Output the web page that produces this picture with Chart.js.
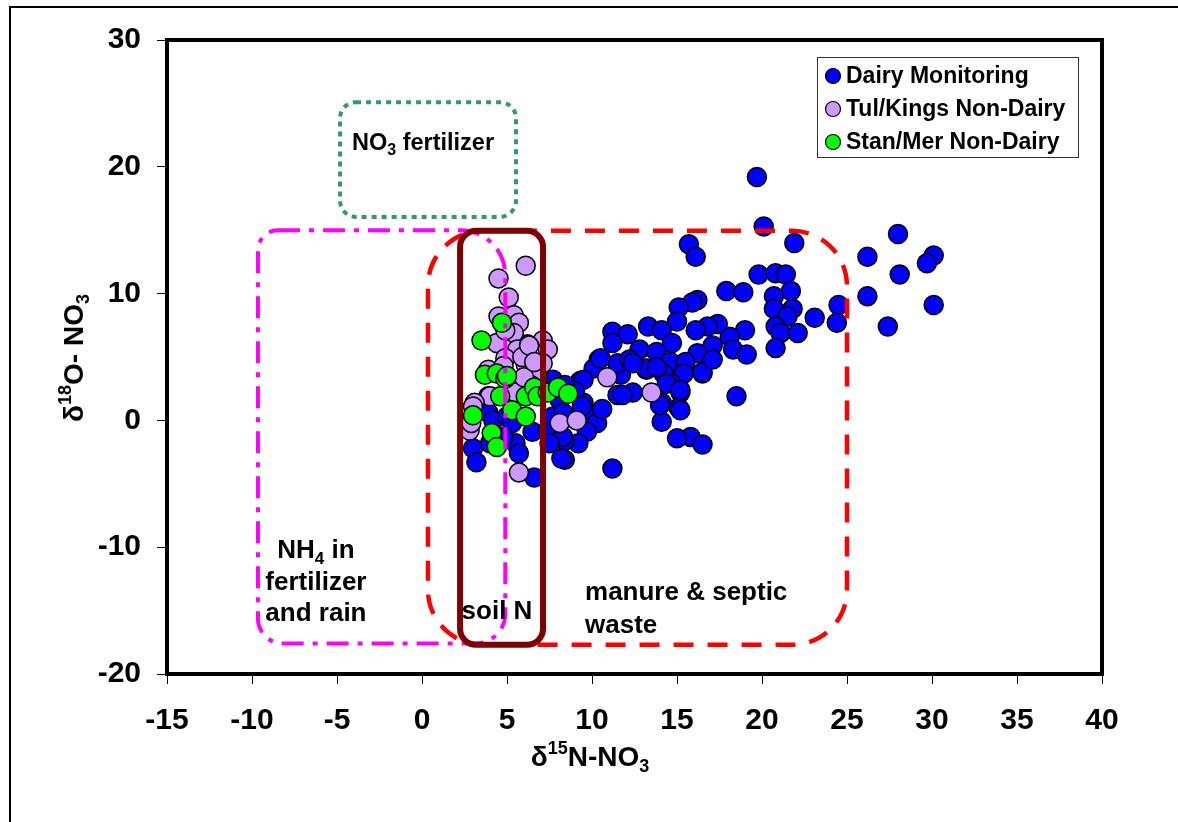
<!DOCTYPE html>
<html>
<head>
<meta charset="utf-8">
<script src="https://cdn.jsdelivr.net/npm/chart.js@4"></script>
<style>
  body { margin: 0; background: #fff; }
  #wrap { position: relative; width: 1178px; height: 822px; }
</style>
</head>
<body>
<div id="wrap"><canvas id="grafico"></canvas></div>
<script>
const seriesNames = ['Dairy Monitoring', 'Tul/Kings Non-Dairy', 'Stan/Mer Non-Dairy'];
const seriesColors = ['#0000ff', '#cc99ff', '#00ff00'];

// [d15N, d18O]
const dairyPoints = [
  [19.7, 19.2], [20.1, 15.3], [21.9, 14.0], [26.2, 12.9], [28.0, 14.7], [30.1, 13.0], [29.7, 12.4],
  [28.1, 11.5], [26.2, 9.8], [30.1, 9.1], [27.4, 7.4], [24.5, 9.1], [24.4, 7.7], [23.1, 8.1],
  [15.7, 13.9], [16.1, 12.9], [19.8, 11.5], [20.8, 11.6], [21.4, 11.5], [21.7, 10.2], [20.7, 9.8],
  [20.7, 8.8], [21.8, 8.8], [21.5, 8.2], [20.8, 7.4], [21.1, 6.9], [22.1, 6.9], [20.8, 5.7],
  [17.9, 10.2], [18.9, 10.1], [16.2, 9.5], [19.0, 7.1], [18.1, 6.6], [18.3, 5.6], [19.1, 5.2],
  [17.4, 7.6], [16.8, 7.4], [16.1, 7.1], [17.1, 5.9], [16.2, 5.3], [16.5, 3.7], [18.5, 1.9],
  [15.8, -1.3], [16.5, -1.9], [15.0, -1.4], [15.9, 9.3], [15.1, 8.9], [15.0, 7.8], [13.3, 7.4],
  [14.1, 7.1], [14.7, 6.1], [11.2, 7.0], [12.1, 6.8], [11.2, 6.1], [12.8, 5.6], [13.8, 5.4],
  [14.6, 4.6], [15.5, 4.6], [15.4, 3.7], [14.6, 3.0], [15.2, 2.2], [14.1, 1.4], [15.1, 1.0],
  [14.1, -0.1], [12.4, 2.2], [11.5, 2.0], [11.7, 3.6], [11.5, 4.5], [10.4, 4.8], [10.1, 4.1],
  [9.3, 3.1], [9.5, 1.4], [9.9, 0.4], [10.3, -0.2], [9.7, -0.9], [9.2, -1.8], [8.4, -1.6],
  [8.4, -3.1], [11.2, -3.8], [13.2, 4.0], [12.2, 4.8], [14.2, 3.7], [16.5, 3.8], [17.1, 4.8],
  [13.2, 4.1], [12.4, 4.5], [13.8, 4.2], [10.5, 4.9], [14.0, 1.2], [15.2, 0.8],
  [14.4, 2.9], [15.2, 2.4], [11.8, 2.0], [9.5, 3.2], [9.0, 2.3], [10.6, 0.9],
  [6.2, 6.0], [7.7, 3.2], [3.9, 1.9], [3.9, 0.6], [4.2, 0.0], [5.0, 0.3], [5.3, -0.2], [6.5, -0.9],
  [7.4, -0.8], [7.7, 0.3], [8.1, 1.6], [8.3, 0.6], [3.0, -2.2], [3.2, -3.3], [5.5, -1.8], [5.7, -2.6],
  [6.6, -4.5], [8.3, -1.3], [8.2, -3.0], [7.5, -1.8], [4.0, -1.8], [4.8, -1.3], [9.4, 1.1], [8.4, 2.8]
];

const tulKingsPoints = [
  [6.1, 12.2], [4.5, 11.2], [5.1, 9.7], [4.5, 8.2], [5.4, 8.3], [5.7, 7.7], [5.4, 6.9], [4.4, 6.1],
  [5.6, 5.6], [6.1, 4.4], [7.1, 6.3], [7.4, 5.6], [7.1, 4.5], [6.8, 3.3], [4.0, 1.9], [3.1, 1.4],
  [2.8, -0.8], [5.7, -4.1], [8.1, -0.2], [9.1, 0.0], [5.5, 2.2], [10.9, 3.4], [13.5, 2.2], [4.9, 7.1],
  [6.4, 2.8], [3.9, 4.0], [4.9, 4.9], [6.0, 3.4], [3.0, 1.1], [2.9, -0.2], [5.9, 5.0], [6.3, 5.9],
  [4.8, 4.3], [6.6, 4.6]
];

const stanMerPoints = [
  [4.7, 7.7], [3.5, 6.3], [3.7, 3.6], [4.4, 3.7], [4.9, 3.3], [4.6, 1.9], [5.3, 0.8], [6.1, 0.3],
  [6.1, 1.9], [6.6, 2.6], [6.8, 1.9], [7.4, 2.2], [8.0, 2.6], [8.6, 2.1], [3.0, 0.4], [4.1, -1.0],
  [4.4, -2.1], [5.0, 3.5]
];

const xTicks = [-15, -10, -5, 0, 5, 10, 15, 20, 25, 30, 35, 40];
const yTicks = [-20, -10, 0, 10, 20, 30];

// source zones, in axis units
const zonas = [
  { x0: -9.65, x1: 4.9, y0: -17.6, y1: 15.0, cor: '#ff00ff', lw: 4, dash: [22, 9, 5, 9], r: [20, 45, 30, 25] },
  { x0: 0.35, x1: 25.0, y0: -17.7, y1: 14.95, cor: '#ff0000', lw: 4.5, dash: [20, 14], r: [55, 55, 55, 55] },
  { x0: 2.24, x1: 7.12, y0: -17.7, y1: 14.95, cor: '#800000', lw: 6, dash: [], r: [16, 16, 16, 16] },
  { x0: -4.82, x1: 5.53, y0: 16.05, y1: 25.1, cor: '#339966', lw: 4, dash: [5, 5], r: [16, 16, 16, 16] }
];

const rotulos = [
  { x: -4.12, y: 22.0, size: 23.5, align: 'left', parts: [['NO'], ['3', 'sub'], [' fertilizer']] },
  { x: -6.24, y: -10.1, size: 26, align: 'center', parts: [['NH'], ['4', 'sub'], [' in']] },
  { x: -6.24, y: -12.6, size: 26, align: 'center', parts: [['fertilizer']] },
  { x: -6.24, y: -15.1, size: 26, align: 'center', parts: [['and rain']] },
  { x: 4.41, y: -14.95, size: 26, align: 'center', parts: [['soil N']] },
  { x: 9.59, y: -13.44, size: 26, align: 'left', parts: [['manure & septic']] },
  { x: 9.59, y: -16.06, size: 26, align: 'left', parts: [['waste']] }
];

const FONTE = '"Liberation Sans", Arial, sans-serif';

function toXY(list) {
  return list.map(p => ({ x: p[0], y: p[1] }));
}

function caminhoArredondado(ctx, x, y, w, h, r) {
  const [tl, tr, br, bl] = r;
  ctx.beginPath();
  ctx.moveTo(x + tl, y);
  ctx.lineTo(x + w - tr, y);
  ctx.arcTo(x + w, y, x + w, y + tr, tr);
  ctx.lineTo(x + w, y + h - br);
  ctx.arcTo(x + w, y + h, x + w - br, y + h, br);
  ctx.lineTo(x + bl, y + h);
  ctx.arcTo(x, y + h, x, y + h - bl, bl);
  ctx.lineTo(x, y + tl);
  ctx.arcTo(x, y, x + tl, y, tl);
  ctx.closePath();
}

// texto com sub/sobrescrito
function textoRico(ctx, parts, x, y, align, size) {
  const small = Math.round(size * 0.66);
  const fonts = parts.map(p => 'bold ' + (p[1] ? small : size) + 'px ' + FONTE);
  let total = 0;
  const widths = parts.map((p, i) => {
    ctx.font = fonts[i];
    const w = ctx.measureText(p[0]).width;
    total += w;
    return w;
  });
  let cx = align === 'center' ? x - total / 2 : x;
  ctx.textAlign = 'left';
  ctx.textBaseline = 'alphabetic';
  const base = y + size * 0.36;
  parts.forEach((p, i) => {
    ctx.font = fonts[i];
    let dy = 0;
    if (p[1] === 'sub') dy = size * 0.22;
    if (p[1] === 'sup') dy = -size * 0.42;
    ctx.fillText(p[0], cx, base + dy);
    cx += widths[i];
  });
}

const desenhoPlugin = {
  id: 'desenho',
  afterDatasetsDraw(chart) {
    const ctx = chart.ctx;
    const sx = chart.scales.x, sy = chart.scales.y;
    ctx.save();
    zonas.forEach(z => {
      const x0 = sx.getPixelForValue(z.x0), x1 = sx.getPixelForValue(z.x1);
      const y0 = sy.getPixelForValue(z.y1), y1 = sy.getPixelForValue(z.y0);
      ctx.strokeStyle = z.cor;
      ctx.lineWidth = z.lw;
      ctx.setLineDash(z.dash);
      caminhoArredondado(ctx, x0, y0, x1 - x0, y1 - y0, z.r);
      ctx.stroke();
    });
    ctx.setLineDash([]);
    ctx.fillStyle = '#000';
    rotulos.forEach(t => {
      textoRico(ctx, t.parts, sx.getPixelForValue(t.x), sy.getPixelForValue(t.y), t.align, t.size);
    });
    ctx.restore();
  },
  afterDraw(chart) {
    const ctx = chart.ctx;
    const a = chart.chartArea;
    ctx.save();
    // moldura externa
    ctx.strokeStyle = '#000';
    ctx.lineWidth = 2;
    ctx.beginPath();
    ctx.moveTo(10, 830);
    ctx.lineTo(10, 7);
    ctx.lineTo(1178, 7);
    ctx.stroke();
    // area do grafico
    ctx.lineWidth = 4;
    ctx.strokeRect(a.left, a.top, a.right - a.left, a.bottom - a.top);

    // legenda
    ctx.lineWidth = 1;
    ctx.strokeStyle = '#333';
    ctx.strokeRect(817.5, 57.5, 261, 100);
    seriesNames.forEach((nome, i) => {
      const cy = 76 + i * 33;
      ctx.beginPath();
      ctx.arc(833, cy, 7.5, 0, Math.PI * 2);
      ctx.fillStyle = seriesColors[i];
      ctx.fill();
      ctx.strokeStyle = '#000';
      ctx.lineWidth = 1.2;
      ctx.stroke();
      ctx.fillStyle = '#000';
      ctx.font = 'bold 23px ' + FONTE;
      ctx.textAlign = 'left';
      ctx.textBaseline = 'middle';
      ctx.fillText(nome, 846, cy + 1);
    });

    // titulos dos eixos
    ctx.fillStyle = '#000';
    textoRico(ctx, [['δ'], ['15', 'sup'], ['N-NO'], ['3', 'sub']], 590, 756, 'center', 28);
    ctx.translate(73, 358);
    ctx.rotate(-Math.PI / 2);
    textoRico(ctx, [['δ'], ['18', 'sup'], ['O- NO'], ['3', 'sub']], 0, 0, 'center', 28);
    ctx.restore();
  }
};

function renderGrafico() {
  const ctx = document.getElementById('grafico');
  const pontos = [dairyPoints, tulKingsPoints, stanMerPoints];

  new Chart(ctx, {
    type: 'scatter',
    data: {
      datasets: pontos.map((lista, i) => ({
        label: seriesNames[i],
        data: toXY(lista),
        backgroundColor: seriesColors[i],
        borderColor: '#000',
        borderWidth: 1.5,
        pointRadius: 9.5,
        pointHoverRadius: 9.5,
        order: 3 - i
      }))
    },
    options: {
      responsive: true,
      maintainAspectRatio: false,
      animation: false,
      layout: { padding: { left: 0, top: 40, right: 76, bottom: 0 } },
      plugins: {
        legend: { display: false },
        tooltip: { enabled: false }
      },
      scales: {
        x: {
          type: 'linear',
          min: xTicks[0],
          max: xTicks[xTicks.length - 1],
          afterBuildTicks: s => { s.ticks = xTicks.map(v => ({ value: v })); },
          afterFit: s => { s.height = 148; },
          border: { display: false },
          grid: { drawOnChartArea: false, drawTicks: true, tickLength: 10, color: '#000', lineWidth: 1 },
          ticks: {
            color: '#000',
            padding: 19,
            maxRotation: 0,
            font: { family: FONTE, size: 30, weight: 'bold' }
          }
        },
        y: {
          type: 'linear',
          min: yTicks[0],
          max: yTicks[yTicks.length - 1],
          afterBuildTicks: s => { s.ticks = yTicks.map(v => ({ value: v })); },
          afterFit: s => { s.width = 167; },
          border: { display: false },
          grid: { drawOnChartArea: false, drawTicks: true, tickLength: 10, color: '#000', lineWidth: 1 },
          ticks: {
            color: '#000',
            padding: 16,
            font: { family: FONTE, size: 30, weight: 'bold' }
          }
        }
      }
    },
    plugins: [desenhoPlugin]
  });
}

document.addEventListener('DOMContentLoaded', renderGrafico);
</script>
</body>
</html>
